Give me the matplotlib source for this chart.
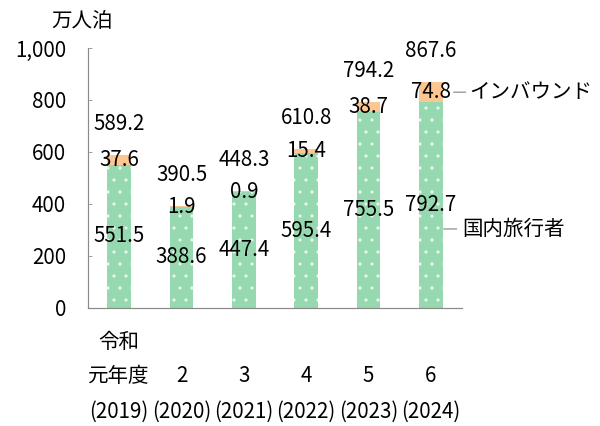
import matplotlib
matplotlib.use("Agg")
import matplotlib.pyplot as plt

plt.rcParams["font.family"] = ["Noto Sans CJK JP", "DejaVu Sans"]
plt.rcParams["hatch.linewidth"] = 0.6

# --- data (万人泊) ---
years_top = ["令和", "", "", "", "", ""]
years_mid = ["元年度", "2", "3", "4", "5", "6"]
years_bot = ["(2019)", "(2020)", "(2021)", "(2022)", "(2023)", "(2024)"]
domestic = [551.5, 388.6, 447.4, 595.4, 755.5, 792.7]
inbound = [37.6, 1.9, 0.9, 15.4, 38.7, 74.8]
totals = [589.2, 390.5, 448.3, 610.8, 794.2, 867.6]

GREEN = "#96d9b0"
ORANGE = "#fcc692"
AXIS = "#8a8a8a"
FS = 20.5

fig = plt.figure(figsize=(600 / 72, 426 / 72), dpi=72)
ax = fig.add_axes([88 / 600, 118 / 426, 374 / 600, 260 / 426])

x = list(range(len(domestic)))
w = 0.38
ax.bar(x, domestic, width=w, color=GREEN, edgecolor="#eef9f2", linewidth=0,
       hatch=".")
ax.bar(x, inbound, width=w, bottom=domestic, color=ORANGE, linewidth=0)

for i in x:
    # domestic value, middle of green segment
    ax.text(i, domestic[i] / 2, f"{domestic[i]:.1f}", ha="center", va="center",
            fontsize=FS)
    # inbound value, middle of orange segment
    ax.text(i, domestic[i] + inbound[i] / 2, f"{inbound[i]:.1f}", ha="center",
            va="center", fontsize=FS)
    # total above the bar
    ax.annotate(f"{totals[i]:.1f}", xy=(i, domestic[i] + inbound[i]),
                xytext=(0, 31), textcoords="offset points",
                ha="center", va="center", fontsize=FS)

# x labels, three rows
for i in x:
    for txt, dy in ((years_top[i], -34), (years_mid[i], -68), (years_bot[i], -104)):
        if txt:
            ax.annotate(txt, xy=(i, 0), xycoords=("data", "axes fraction"),
                        xytext=(0, dy), textcoords="offset points",
                        ha="center", va="center", fontsize=FS)

# series labels with leader lines
last = len(x) - 1
ax.annotate("インバウンド", xy=(last + w / 2, domestic[last] + inbound[last] / 2),
            xytext=(27, 0), textcoords="offset points", ha="left", va="center",
            fontsize=FS, annotation_clip=False,
            arrowprops=dict(arrowstyle="-", color=AXIS, lw=1.2, relpos=(0, 0.5),
                            shrinkA=2, shrinkB=11))
ax.annotate("国内旅行者", xy=(last + w / 2, 304),
            xytext=(20, 0), textcoords="offset points", ha="left", va="center",
            fontsize=FS, annotation_clip=False,
            arrowprops=dict(arrowstyle="-", color=AXIS, lw=1.2, relpos=(0, 0.5),
                            shrinkA=4, shrinkB=1))

ax.annotate("万人泊", xy=(0, 1), xycoords="axes fraction", xytext=(-6, 27),
            textcoords="offset points", ha="center", va="center", fontsize=FS)

ax.set_xlim(-0.5, len(x) - 0.5)
ax.set_ylim(0, 1000)
ax.set_yticks(range(0, 1001, 200))
ax.set_yticklabels([f"{v:,}" for v in range(0, 1001, 200)], fontsize=FS)
ax.set_xticks([])
ax.tick_params(axis="y", direction="in", length=4, color=AXIS, pad=22)
for s in ("top", "right"):
    ax.spines[s].set_visible(False)
for s in ("left", "bottom"):
    ax.spines[s].set_color(AXIS)
    ax.spines[s].set_linewidth(1.2)

fig.savefig("out.png", dpi=72)
